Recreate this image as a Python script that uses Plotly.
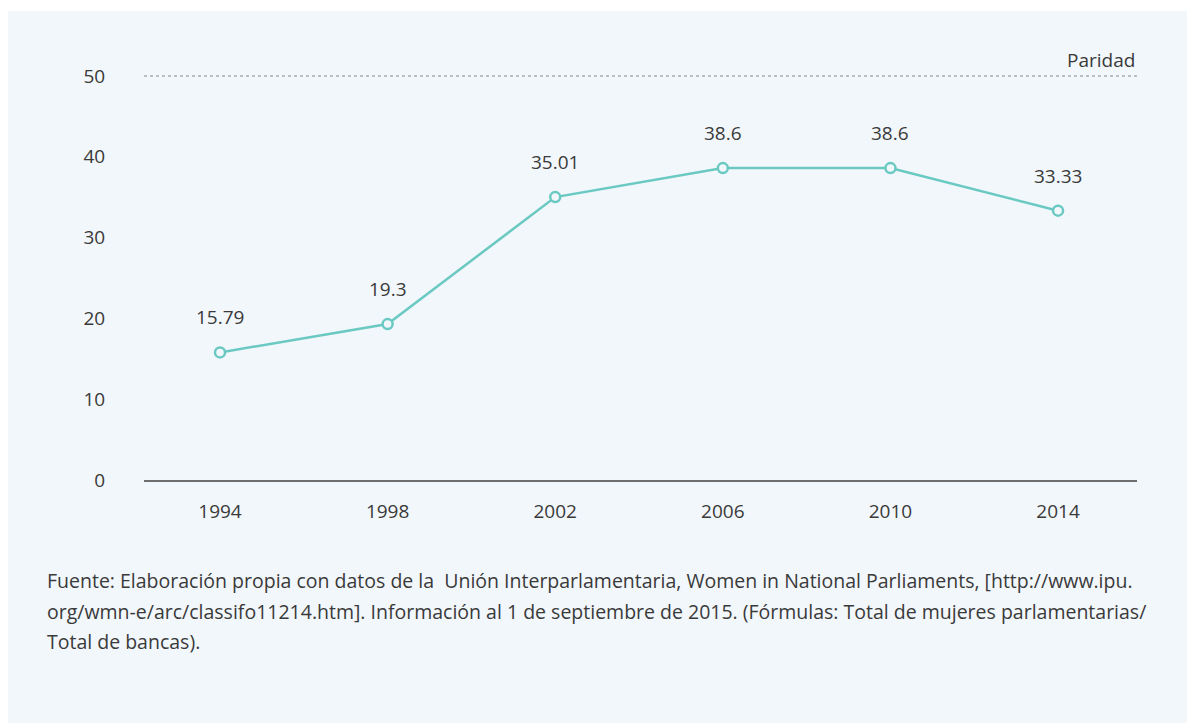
import plotly.graph_objects as go

years = ["1994", "1998", "2002", "2006", "2010", "2014"]
values = [15.79, 19.3, 35.01, 38.6, 38.6, 33.33]
labels = ["15.79", "19.3", "35.01", "38.6", "38.6", "33.33"]
y_ticks = [0, 10, 20, 30, 40, 50]
parity = 50

footer_lines = [
    "Fuente: Elaboración propia con datos de la  Unión Interparlamentaria, Women in National Parliaments, [http://www.ipu.",
    "org/wmn-e/arc/classifo11214.htm]. Información al 1 de septiembre de 2015. (Fórmulas: Total de mujeres parlamentarias/",
    "Total de bancas).",
]

# page body has an 8px margin; reference pixel p maps to figure pixel p-8
OFF = 8
W, H = 1195 - OFF, 723 - OFF
ml = 144 - OFF
mr = W - (1137 - OFF)
mt = 60 - OFF
mb = H - (480 - OFF)
pw, ph = W - ml - mr, H - mt - mb

def px_x(p):
    return (p - OFF - ml) / pw

def px_y(p):
    return (H - mb - (p - OFF)) / ph

BG = "#f2f7fb"
TEAL = "#6ac9c2"
TXT = "#3a3a3a"
FONT = "Open Sans"

fig = go.Figure()
fig.add_trace(go.Scatter(
    x=list(range(len(years))), y=values, mode="lines+markers",
    line=dict(color=TEAL, width=2.5),
    marker=dict(symbol="circle", size=10, color=BG, line=dict(color=TEAL, width=2.5)),
    hoverinfo="skip", showlegend=False,
))

for i, (v, t) in enumerate(zip(values, labels)):
    fig.add_annotation(x=i, y=v, text=t, showarrow=False, yshift=35,
                       font=dict(family=FONT, size=19, color=TXT))

# background panel
fig.add_shape(type="rect", xref="paper", yref="paper", layer="below",
              x0=px_x(8), x1=px_x(1210), y0=px_y(740), y1=px_y(11),
              fillcolor=BG, line=dict(width=0))
# parity line
fig.add_shape(type="line", xref="paper", yref="y", x0=0, x1=1, y0=parity, y1=parity,
              line=dict(color="#aaaaaa", width=1.5, dash="dot"))
fig.add_annotation(xref="paper", yref="y", x=1, y=parity, text="Paridad", showarrow=False,
                   xanchor="right", yanchor="bottom", yshift=1,
                   font=dict(family=FONT, size=19, color=TXT))

for line, ypx in zip(footer_lines, [580, 611, 641]):
    fig.add_annotation(xref="paper", yref="paper", x=px_x(47), y=px_y(ypx), text=line,
                       showarrow=False, xanchor="left", yanchor="middle", align="left",
                       xshift=-2, font=dict(family=FONT, size=19.5, color=TXT))

fig.update_layout(
    width=W, height=H,
    margin=dict(l=ml, r=mr, t=mt, b=mb, pad=0),
    paper_bgcolor="white", plot_bgcolor="rgba(0,0,0,0)",
    xaxis=dict(range=[-0.4535, 5.471], tickmode="array", tickvals=list(range(len(years))),
               ticktext=years, showgrid=False, zeroline=False, showline=True,
               linecolor="#6e6e6e", linewidth=1.5, ticks="outside", ticklen=13,
               tickcolor="rgba(0,0,0,0)", tickfont=dict(family=FONT, size=19, color=TXT),
               fixedrange=True),
    yaxis=dict(range=[0, ph / 8.08], tickmode="array", tickvals=y_ticks,
               showgrid=False, zeroline=False, showline=False,
               ticks="outside", ticklen=34, tickcolor="rgba(0,0,0,0)",
               tickfont=dict(family=FONT, size=19, color=TXT), fixedrange=True),
    font=dict(family=FONT),
)

fig.write_html("out.html")
